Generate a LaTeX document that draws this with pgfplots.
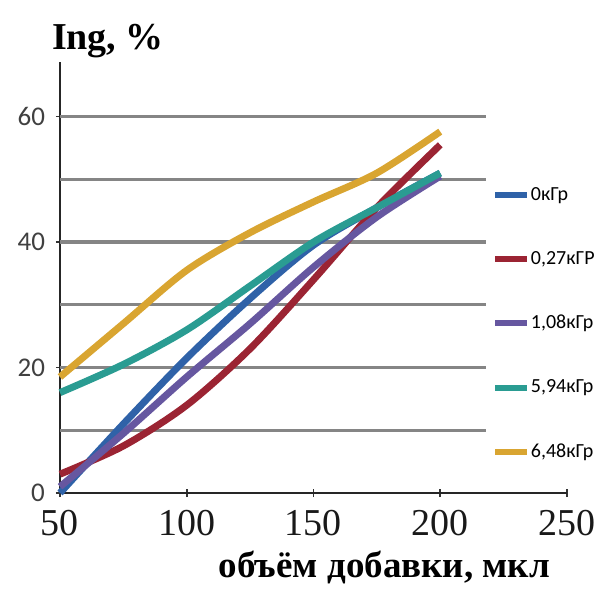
\documentclass[border=0pt]{standalone}
\usepackage{fontspec}
\setmainfont{Liberation Serif}
\newfontfamily\calfont{Carlito}
\usepackage{pgfplots}
\pgfplotsset{compat=1.18}

\definecolor{cblue}{HTML}{2F62A8}
\definecolor{cred}{HTML}{9B2433}
\definecolor{cpurple}{HTML}{6657A0}
\definecolor{cteal}{HTML}{2A9C92}
\definecolor{cgold}{HTML}{D9A531}
\definecolor{cgrid}{HTML}{858585}

\begin{document}
\begin{tikzpicture}
\begin{axis}[
  scale only axis,
  width=253.5pt, height=215.5pt,
  xmin=50, xmax=250, ymin=0, ymax=68.7,
  axis lines=left,
  axis line style={-, line width=1pt, black!85},
  xtick={50,100,150,200,250},
  ytick={0,20,40,60},
  /pgf/number format/assume math mode=true,
  x tick label style={font=\fontsize{19}{21}\selectfont, black!90, yshift=-3pt},
  y tick label style={font=\calfont\fontsize{13.5}{15}\selectfont, black!75, xshift=-2pt},
  major tick length=4pt,
  tick style={black!80, line width=0.8pt},
  clip=false,
  legend cell align=left,
  legend style={at={(rel axis cs:0.852,0.72)}, anchor=north west,
    draw=none, fill=none, font=\calfont\fontsize{10}{11}\selectfont,
    row sep=20pt, inner sep=0pt},
  legend image code/.code={\draw[#1, line width=3pt] (0pt,0pt) -- (16pt,0pt);},
  every axis legend/.append style={nodes={inner xsep=0.3pt}},
]
\coordinate (sw) at (rel axis cs:0,0);
% horizontal grid lines (only over the plot area, left of the legend)
\foreach \g in {10,20,30,40,50,60}{
  \edef\temp{\noexpand\draw[cgrid, line width=1.6pt] (axis cs:50,\g) -- (axis cs:218,\g);}
  \temp
}
\addplot[cblue, line width=3.5pt, smooth] coordinates {
  (50,0) (75,11) (100,21.5) (125,31) (150,39.5) (175,45.5) (200,51)};
\addlegendentry{0кГр}
\addplot[cred, line width=3.5pt, smooth] coordinates {
  (50,3) (75,7.5) (100,14) (125,23) (150,34) (175,45.5) (200,55.5)};
\addlegendentry{0,27кГР}
\addplot[cpurple, line width=3.5pt, smooth] coordinates {
  (50,1) (75,9.5) (100,18.5) (125,27) (150,36) (175,44) (200,50.5)};
\addlegendentry{1,08кГр}
\addplot[cteal, line width=3.5pt, smooth] coordinates {
  (50,16) (75,20.5) (100,26) (125,33) (150,40) (175,45.5) (200,51)};
\addlegendentry{5,94кГр}
\addplot[cgold, line width=3.5pt, smooth] coordinates {
  (50,18.5) (75,27) (100,35.5) (125,41.5) (150,46.4) (175,51) (200,57.6)};
\addlegendentry{6,48кГр}

\node[anchor=base west, font=\bfseries\fontsize{19}{21}\selectfont]
  at ([xshift=-7.5pt, yshift=6pt]rel axis cs:0,1) {Ing, \%};
\node[anchor=base east, font=\bfseries\fontsize{18.5}{20}\selectfont]
  at ([xshift=-5pt, yshift=-42pt]rel axis cs:1,0) {объём добавки, мкл};
\end{axis}
\pgfresetboundingbox
\path ([shift={(-30pt,-48.5pt)}]sw) rectangle ([shift={(270.5pt,246.5pt)}]sw);
\end{tikzpicture}
\end{document}
